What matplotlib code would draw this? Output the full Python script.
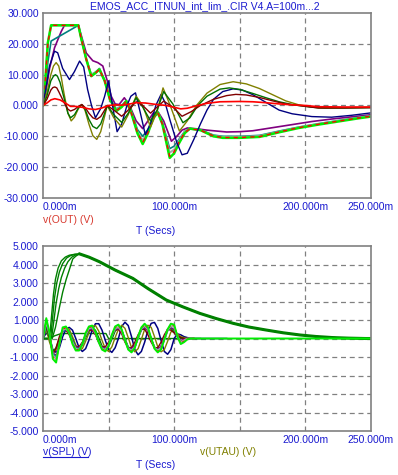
import matplotlib
matplotlib.use('Agg')
import matplotlib.pyplot as plt

plt.rcParams['font.family'] = ['Liberation Sans', 'DejaVu Sans']

# ---------- top plot: v(OUT) ----------
t_red = [0, 3, 6, 9, 13, 17, 21, 25, 30, 35, 40, 45, 50, 55, 60, 65, 71, 78, 85, 94, 100, 105, 110, 117, 125, 135, 150, 160, 170, 180, 190, 200, 210, 230, 250]
v_red = [0, 0.8, 1.8, 2.2, 1.8, 0.8, -0.3, -0.3, -0.6, -1.1, -1.3, -0.8, 0.0, 0.2, 0.1, 0.4, 0.9, 0.8, 0.4, 0.0, -0.6, -1.1, -0.9, -0.1, 0.7, 1.2, 1.3, 1.2, 0.9, 0.5, 0.2, 0.0, -0.4, -0.5, -0.5]

t_maroon = [0, 3, 6, 7.5, 9, 10.5, 12, 16, 19, 21, 24, 27, 29.6, 32, 35, 38, 41, 44, 47, 49, 54, 60, 65, 71, 76, 82, 87, 92, 99, 106, 113, 120, 130, 140, 147, 155, 165, 175, 185, 195, 210, 230, 250]
v_maroon = [0, 2, 5, 5.8, 6, 5.7, 4.5, 1, -1.2, -1.8, -1.3, -0.3, 0.3, -0.6, -2.5, -4, -4.5, -3.6, -1.5, 0, -1.5, -3.5, -1.5, 1.2, 0, -2.5, -0.5, 1.4, -0.5, -3.5, -2, 0, 2, 3.2, 3.6, 3.4, 2.6, 1.5, 0.5, 0, -0.8, -0.8, -0.7]

t_green = [0, 3, 6, 8, 9.5, 11, 13, 16, 19, 21, 24, 27, 29.6, 32, 35, 38, 41, 44, 47, 49, 54, 60, 65, 71, 76, 82, 87, 92, 99, 106.7, 112, 118, 125, 135, 142, 150, 160, 170, 180, 190, 200, 210, 230, 250]
v_green = [0, 3, 8, 9.5, 10, 9.5, 7.5, 2.5, -2.5, -4, -3, -0.8, 0.3, -1.2, -4.5, -6.8, -7.5, -6, -2.5, 0, -3, -5.5, -2.5, 2.5, -0.5, -5, -1.5, 4.5, 0.5, -5.6, -4, 0, 3, 5.3, 5.7, 5.2, 3.9, 2.5, 1.2, 0.3, -0.3, -0.8, -0.8, -0.7]

t_olive = [0, 3, 6, 8, 10, 12, 14, 16, 19, 21.5, 24, 27, 29.6, 32, 35, 38, 41, 44, 47, 49, 54, 60, 65, 71, 76, 82, 87, 91.5, 97, 104, 110, 117, 125, 135, 145, 155, 165, 175, 185, 195, 205, 215, 250]
v_olive = [0, 4, 10, 12.8, 13.9, 12.8, 9, 4, -2.5, -5, -3.8, -1, 0.3, -1.5, -6, -9.8, -11, -8.5, -3.5, 0, -4, -7, -3, 3, 0, -7, -2, 5.7, 0, -8.3, -5, 0, 4, 6.8, 7.7, 7, 5.5, 3.5, 1.5, 0.2, -0.5, -0.8, -0.6]

t_navy = [0, 2, 5, 8.8, 11.2, 15, 20.2, 24, 27.9, 31, 34, 37, 40, 44, 47, 50, 53, 56.5, 60, 64, 67, 70.5, 74, 78, 82, 86, 90, 93, 97, 102, 106, 110, 115, 120, 125, 130, 137, 145, 152, 160, 170, 180, 190, 205, 220, 235, 250]
v_navy = [0, 5, 12.8, 17.6, 17.1, 12, 8.4, 11, 14.4, 12.5, 5.2, 0, -4, -1, 3, 8, 0, -8.5, -6, 0, 3, 4.1, -2, -9.5, -6, 0, 3.6, 1, -5, -12, -16, -15.5, -11, -6, -1.5, 2, 4.5, 5.4, 5, 3.5, 1, -1.5, -2.7, -3.6, -3.8, -3.2, -2.4]

t_purple = [0, 2, 5, 8.8, 11, 13.9, 16.4, 27, 29, 33, 38, 41.8, 45.6, 49, 52, 55, 58, 62, 66, 71, 76, 80, 84, 88, 92, 97.9, 102, 106, 110, 118, 125, 140, 150, 160, 175, 190, 205, 220, 235, 250]
v_purple = [0, 4, 12, 18.7, 21, 24, 26, 26, 23, 17, 14.5, 13.9, 12.8, 8, 3, 0.5, 0.3, 2.5, 0, -5, -7.5, -5, -2.5, -2.3, -5, -11.6, -10, -8, -7.3, -7.6, -8, -8.6, -8.5, -8.2, -7.2, -6.2, -5.2, -4.4, -3.7, -3]

# gray, red dashed, bright green and teal share one time base
t_grp = [0, 1, 2, 3.7, 6.2, 27, 29, 33, 36.8, 40, 43, 47, 51, 56, 60, 63.5, 67, 72, 76, 80, 84, 87.6, 91, 96.6, 100, 104, 108, 112, 120, 130, 137, 150, 165, 180, 195, 210, 225, 240, 250]
v_lime = [0, 0.3, 9.5, 20.3, 26, 26, 22, 15, 9.5, 10.5, 11.7, 8, 2, -1.8, -0.5, 1.4, -2, -9, -12.5, -9, -4, -2.4, -6, -17, -15.5, -12, -9, -7.5, -8, -10, -10.5, -10.5, -10.2, -8.7, -7.3, -6.2, -5.2, -4.2, -3.6]
v_reddash = [0, 0.3, 9.5, 20.3, 26, 26, 22, 15, 9.5, 10.5, 11.7, 8, 2, -1.6, -0.4, 1.4, -2, -8.8, -12, -8.8, -4, -2.4, -6, -16.5, -15, -11.7, -8.8, -7.6, -8, -9.9, -10.4, -10.4, -10.1, -8.6, -7.2, -6.1, -5.1, -4.1, -3.5]
v_gray = [0, 0.3, 9.5, 20.3, 26, 26, 22, 15, 10, 10.8, 11.8, 8, 2, -1.4, -0.2, 1.5, -1.8, -8.5, -11.3, -8.5, -3.8, -2.2, -5.8, -15.3, -14.3, -11.2, -8.6, -7.6, -8, -9.8, -10.2, -10.2, -9.9, -8.5, -7.1, -6, -5, -4, -3.4]
v_teal = [0, 0.2, 5, 14, 20.9, 26, 22, 15, 10, 10.8, 12, 8.2, 2.2, -1.2, 0, 1.6, -1.5, -7.8, -10, -7.8, -3.5, -2, -5.5, -14, -13.2, -10.8, -8.4, -7.5, -7.9, -9.6, -10, -10, -9.7, -8.3, -7, -5.9, -4.9, -3.9, -3.3]

# ---------- bottom plot: v(SPL) and v(UTAU) ----------
t_spl = [0, 2.5, 5, 7.5, 10, 12.5, 15, 17.5, 20, 22.5, 25, 27.5, 30, 32.5, 35, 37.5, 40, 42.5, 45, 47.5,
         50, 52.5, 55, 57.5, 60, 62.5, 65, 67.5, 70, 72.5, 75, 77.5, 80, 82.5, 85, 87.5, 90, 92.5, 95, 97.5,
         100, 102.5, 105, 107.5, 110, 112.5, 115]
spl_navy = [0, 0.3, 0.1, -0.6, -0.75, -0.5, 0.1, 0.5, 0.6, 0.45, 0.0, -0.5, -0.7, -0.55, -0.1, 0.45, 0.8, 0.8, 0.45, -0.1,
            -0.6, -0.75, -0.5, 0.0, 0.65, 0.88, 0.7, 0.1, -0.6, -0.88, -0.7, -0.2, 0.45, 0.82, 0.87, 0.55, -0.1, -0.7, -0.85, -0.6,
            0.0, 0.25, 0.2, 0.1, 0.05, 0, 0]
spl_olive = [0, 0.5, -0.2, -0.7, -0.6, -0.1, 0.4, 0.6, 0.5, 0.1, -0.35, -0.6, -0.55, -0.15, 0.3, 0.65, 0.7, 0.4, -0.1, -0.55,
             -0.7, -0.45, 0.05, 0.5, 0.72, 0.55, 0.05, -0.5, -0.72, -0.55, -0.05, 0.5, 0.72, 0.6, 0.1, -0.45, -0.72, -0.6, -0.15, 0.35,
             0.5, 0.25, 0.1, 0.05, 0, 0, 0]
spl_green = [0, 0.6, 0, -0.7, -0.5, 0.0, 0.45, 0.55, 0.35, -0.05, -0.45, -0.55, -0.35, 0.05, 0.45, 0.58, 0.45, 0.05, -0.4, -0.58,
             -0.45, -0.05, 0.4, 0.58, 0.45, 0.0, -0.45, -0.6, -0.45, 0.0, 0.45, 0.6, 0.45, 0.0, -0.45, -0.6, -0.45, 0.0, 0.45, 0.55,
             0.35, 0.1, 0.05, 0, 0, 0, 0]
spl_maroon = [0, 0.9, 0.1, -0.9, -0.5, 0.1, 0.45, 0.45, 0.2, -0.2, -0.45, -0.45, -0.2, 0.2, 0.45, 0.45, 0.2, -0.2, -0.45, -0.45,
              -0.2, 0.2, 0.45, 0.5, 0.25, -0.2, -0.5, -0.5, -0.2, 0.2, 0.5, 0.5, 0.2, -0.2, -0.5, -0.5, -0.2, 0.2, 0.5, 0.45,
              0.3, 0.15, 0.05, 0, 0, 0, 0]
spl_purple = [0, 0.7, 0.2, -0.8, -0.9, -0.2, 0.4, 0.5, 0.3, -0.15, -0.45, -0.5, -0.25, 0.2, 0.48, 0.5, 0.25, -0.2, -0.48, -0.52,
              -0.3, 0.15, 0.48, 0.55, 0.35, -0.1, -0.5, -0.55, -0.35, 0.1, 0.5, 0.58, 0.4, -0.05, -0.5, -0.58, -0.4, 0.05, 0.5, 0.58,
              0.5, 0.1, -0.1, -0.05, 0, 0, 0]
spl_gray = [0, 0.9, 0.25, -0.9, -1.1, -0.3, 0.45, 0.55, 0.3, -0.2, -0.55, -0.6, -0.3, 0.2, 0.55, 0.6, 0.3, -0.2, -0.55, -0.6,
            -0.35, 0.15, 0.55, 0.62, 0.4, -0.1, -0.55, -0.65, -0.45, 0.05, 0.55, 0.68, 0.5, -0.05, -0.5, -0.65, -0.5, -0.05, 0.45, 0.68,
            0.62, 0.1, -0.2, -0.1, 0, 0, 0]
spl_teal = [0, 0.8, 0.3, -0.8, -1.0, -0.35, 0.35, 0.5, 0.35, -0.1, -0.5, -0.55, -0.35, 0.15, 0.5, 0.58, 0.35, -0.15, -0.5, -0.58,
            -0.4, 0.1, 0.5, 0.6, 0.45, -0.05, -0.5, -0.62, -0.5, 0.0, 0.5, 0.65, 0.55, 0.0, -0.48, -0.62, -0.52, -0.1, 0.4, 0.65,
            0.65, 0.15, -0.2, -0.12, -0.02, 0, 0]
spl_reddash = [0, 1.0, 0.3, -1.0, -1.2, -0.3, 0.5, 0.6, 0.3, -0.25, -0.6, -0.62, -0.3, 0.25, 0.6, 0.65, 0.32, -0.2, -0.58, -0.65,
               -0.38, 0.18, 0.6, 0.7, 0.45, -0.1, -0.58, -0.7, -0.48, 0.08, 0.58, 0.75, 0.55, -0.02, -0.52, -0.7, -0.55, -0.05, 0.48, 0.75,
               0.7, 0.1, -0.25, -0.15, -0.03, 0, 0]
spl_lime = [0, 1.1, 0.3, -1.1, -1.3, -0.3, 0.6, 0.65, 0.3, -0.3, -0.65, -0.65, -0.3, 0.3, 0.65, 0.7, 0.35, -0.2, -0.6, -0.7,
            -0.4, 0.2, 0.65, 0.75, 0.5, -0.1, -0.6, -0.75, -0.5, 0.1, 0.6, 0.8, 0.6, 0.0, -0.55, -0.75, -0.6, -0.05, 0.5, 0.8,
            0.75, 0.1, -0.3, -0.2, -0.05, 0, 0]

t_step = [5, 9, 14, 30, 48, 50, 120]
v_step = [0, 0.15, 0.27, 0.27, 0.27, 0.0, 0.0]

# v(UTAU): several rise shapes, common decay
t_decay = [28, 35, 43, 55, 68.5, 80, 94, 107, 119.5, 132, 145, 157, 170, 183, 196, 208, 221, 233, 246, 250]
v_decay = [4.57, 4.4, 4.15, 3.7, 3.25, 2.7, 2.08, 1.7, 1.36, 1.08, 0.82, 0.62, 0.46, 0.31, 0.19, 0.11, 0.05, 0.02, 0, 0]
t_rise = [
    [0, 5, 6.5, 8, 9.5, 11.5, 14, 17, 20, 24],
    [0, 5.8, 7.3, 8.8, 10.5, 12.5, 15, 18, 21, 24.5],
    [0, 6.5, 8.2, 10, 12, 14, 16.5, 19, 22, 25],
    [0, 7, 9.5, 12.6, 15, 17.7, 20, 22.7, 25, 26.5],
]
v_rise = [
    [0, 0, 1.2, 2.4, 3.2, 3.8, 4.2, 4.4, 4.5, 4.55],
    [0, 0, 1.1, 2.2, 3.0, 3.6, 4.05, 4.35, 4.48, 4.55],
    [0, 0, 0.9, 1.9, 2.7, 3.3, 3.8, 4.15, 4.4, 4.52],
    [0, 0, 0.6, 1.7, 2.5, 3.2, 3.7, 4.3, 4.45, 4.52],
]

blue_txt = '#1a1ad0'
gridc = '#808080'

fig = plt.figure(figsize=(3.98, 4.75), dpi=100)
ax1 = fig.add_axes([0.108, 0.5832, 0.824, 0.3895])
ax2 = fig.add_axes([0.108, 0.0926, 0.824, 0.3895])


def style(ax, yticks):
    ax.set_xlim(0, 250)
    ax.set_ylim(yticks[0], yticks[-1])
    ax.set_yticks(yticks)
    ax.set_yticklabels(['%.3f' % y for y in yticks])
    ax.set_xticks([0, 100, 200, 250])
    ax.set_xticklabels(['0.000m', '100.000m', '200.000m', '250.000m'])
    ax.get_xticklabels()[0].set_horizontalalignment('left')
    ax.tick_params(length=0, labelsize=7.5, labelcolor=blue_txt, pad=3)
    for y in yticks[1:-1]:
        ax.axhline(y, color=gridc, lw=0.9, ls=(0, (4, 3)), zorder=0)
    for x in [50, 100, 150, 200]:
        ax.axvline(x, color=gridc, lw=0.9, ls=(0, (4, 3)), zorder=0)
    for s in ax.spines.values():
        s.set_color(gridc)
        s.set_linewidth(1.2)


style(ax1, [-30, -20, -10, 0, 10, 20, 30])
style(ax2, [-5, -4, -3, -2, -1, 0, 1, 2, 3, 4, 5])

ax1.plot(t_purple, v_purple, color='#800080', lw=1.2)
ax1.plot(t_grp, v_teal, color='#008080', lw=1.2)
ax1.plot(t_grp, v_gray, color='#a8a8a8', lw=1.4)
ax1.plot(t_grp, v_lime, color='#00ee00', lw=1.8)
ax1.plot(t_grp, v_reddash, color='#ff0000', lw=1.0, ls=(0, (3, 3)))
ax1.plot(t_navy, v_navy, color='#000080', lw=1.0)
ax1.plot(t_olive, v_olive, color='#808000', lw=1.0)
ax1.plot(t_green, v_green, color='#007000', lw=1.0)
ax1.plot(t_maroon, v_maroon, color='#800000', lw=1.0)
ax1.plot(t_red, v_red, color='#ff0000', lw=1.2)

for tr, vr in zip(t_rise, v_rise):
    ax2.plot(tr + t_decay, vr + v_decay, color='#008000', lw=1.0)
ax2.plot(t_decay, v_decay, color='#008000', lw=2.2)
ax2.plot(t_step, v_step, color='#008000', lw=1.0)
ax2.plot(t_spl + [140], spl_navy + [0], color='#000080', lw=1.1)
ax2.plot(t_spl, spl_olive, color='#808000', lw=1.0)
ax2.plot(t_spl, spl_green, color='#008000', lw=1.0)
ax2.plot(t_spl, spl_maroon, color='#800000', lw=1.0)
ax2.plot(t_spl, spl_purple, color='#800080', lw=1.0)
ax2.plot(t_spl, spl_teal, color='#008080', lw=1.0)
ax2.plot(t_spl, spl_gray, color='#a8a8a8', lw=1.3)
ax2.plot(t_spl, spl_reddash, color='#ff0000', lw=1.0, ls=(0, (2, 2)))
ax2.plot(t_spl + [250], spl_lime + [0], color='#00ee00', lw=1.4)

fig.text(0.515, 0.987, 'EMOS_ACC_ITNUN_int_lim_.CIR V4.A=100m...2', color=blue_txt,
         fontsize=7.5, ha='center', va='center')
fig.text(0.108, 1 - 220 / 475, 'v(OUT) (V)', color='#d83a30', fontsize=7.5, ha='left', va='center')
fig.text(0.392, 1 - 231 / 475, 'T (Secs)', color=blue_txt, fontsize=7.5, ha='center', va='center')
fig.text(0.108, 1 - 452 / 475, 'v(SPL) (V)', color=blue_txt, fontsize=7.5, ha='left', va='center')
fig.add_artist(plt.Line2D([0.108, 0.222], [1 - 457 / 475, 1 - 457 / 475], color=blue_txt, lw=0.8))
fig.text(0.503, 1 - 452 / 475, 'v(UTAU) (V)', color='#808000', fontsize=7.5, ha='left', va='center')
fig.text(0.392, 1 - 465 / 475, 'T (Secs)', color=blue_txt, fontsize=7.5, ha='center', va='center')

fig.savefig('out.png', dpi=100)
